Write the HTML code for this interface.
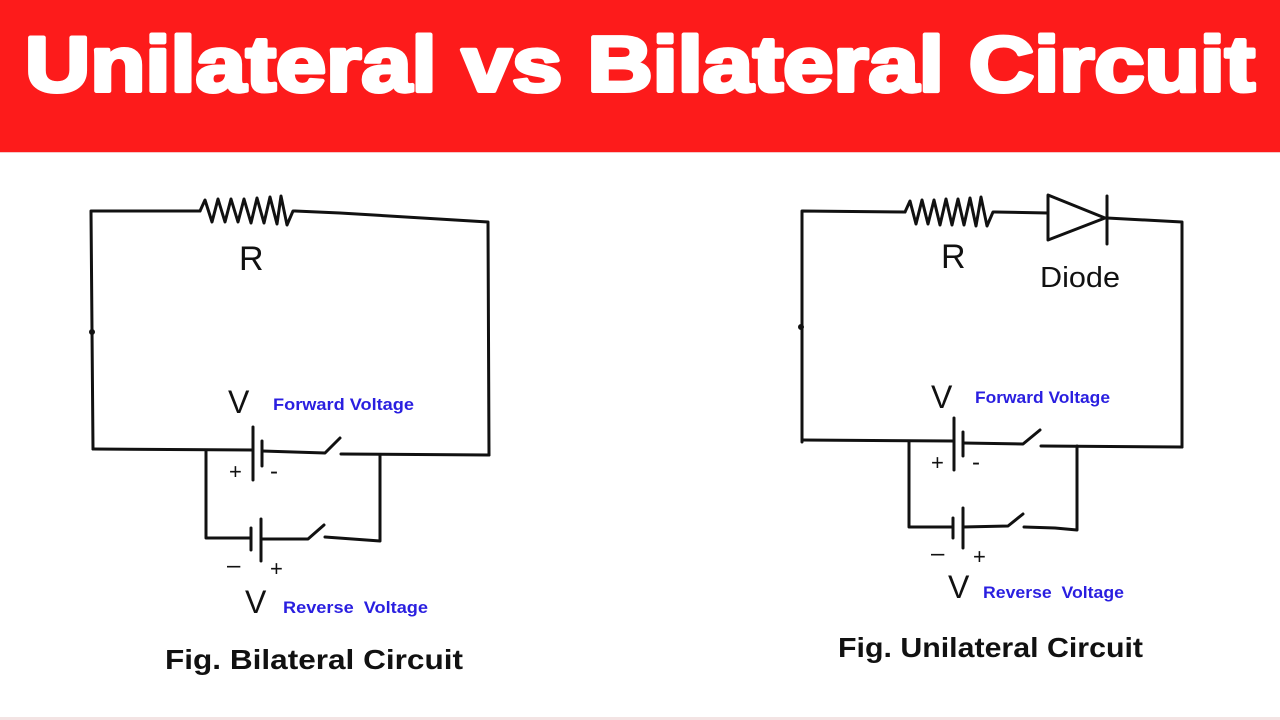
<!DOCTYPE html>
<html>
<head>
<meta charset="utf-8">
<style>
  html,body{margin:0;padding:0;background:#fff;}
  body{width:1280px;height:720px;overflow:hidden;}
  svg{display:block;}
</style>
</head>
<body>
<svg width="1280" height="720" viewBox="0 0 1280 720" xmlns="http://www.w3.org/2000/svg">
  <rect x="0" y="0" width="1280" height="720" fill="#ffffff"/>
  <!-- header band -->
  <rect x="0" y="0" width="1280" height="152" fill="#fd1b1b"/>
  <rect x="0" y="152" width="1280" height="1" fill="#f6c8c8"/>
  <text x="25" y="91" font-family="Liberation Sans, sans-serif" font-weight="bold" font-size="78" fill="#ffffff" stroke="#ffffff" stroke-width="4" stroke-linejoin="round" textLength="1230" lengthAdjust="spacingAndGlyphs">Unilateral vs Bilateral Circuit</text>

  <!-- bottom faint line -->
  <rect x="0" y="717" width="1280" height="3" fill="#f3e3e3"/>

  <g fill="none" stroke="#111" stroke-width="3" stroke-linecap="round" stroke-linejoin="round">
    <!-- LEFT CIRCUIT -->
    <path d="M93,449 L91,211 L200,211"/>
    <polyline points="200,211 205,200 212,222 218,199 225,222 231,199 238,222 244,199 251,223 257,198 264,223 270,197 277,224 281,196 287,225 293,211 295,211"/>
    <path d="M295,211 L340,213 L488,222 L489,455"/>
    <circle cx="92" cy="332" r="1.5" fill="#111"/>
    <!-- top battery + switch -->
    <path d="M93,449 L253,450"/>
    <path d="M253,427 L253,480"/>
    <path d="M262,441 L262,466"/>
    <path d="M262,451 L325,453 L340,438"/>
    <path d="M341,454 L489,455"/>
    <!-- parallel branch -->
    <path d="M206,450 L206,538 L251,538"/>
    <path d="M251,528 L251,550"/>
    <path d="M261,519 L261,561"/>
    <path d="M261,539 L308,539 L324,525"/>
    <path d="M325,537 L380,541 L380,455"/>

    <!-- RIGHT CIRCUIT -->
    <path d="M802,442 L802,211 L905,212"/>
    <polyline points="905,212 910,201 916,224 922,200 928,224 934,200 940,225 946,199 952,225 958,199 964,225 970,198 976,226 981,197 987,226 993,212 995,212"/>
    <path d="M995,212 L1048,213"/>
    <path d="M1048,195 L1048,240 L1105,218 Z"/>
    <path d="M1107,196 L1107,244"/>
    <path d="M1107,218 L1182,222 L1182,447"/>
    <circle cx="801" cy="327" r="1.5" fill="#111"/>
    <!-- top battery + switch -->
    <path d="M802,440 L954,441"/>
    <path d="M954,418 L954,470"/>
    <path d="M963,432 L963,456"/>
    <path d="M963,443 L1023,444 L1040,430"/>
    <path d="M1041,446 L1182,447"/>
    <!-- parallel branch -->
    <path d="M909,441 L909,527 L953,527"/>
    <path d="M953,518 L953,538"/>
    <path d="M963,508 L963,548"/>
    <path d="M963,527 L1008,526 L1023,514"/>
    <path d="M1024,527 L1055,528 L1077,530 L1077,446"/>
  </g>

  <g font-family="Liberation Sans, sans-serif" fill="#111">
    <!-- left labels -->
    <text x="239" y="270" font-size="34">R</text>
    <text x="228" y="413" font-size="32">V</text>
    <text x="229" y="479" font-size="22">+</text>
    <text x="270" y="479" font-size="24">-</text>
    <text x="227" y="573" font-size="24">–</text>
    <text x="270" y="576" font-size="22">+</text>
    <text x="245" y="613" font-size="32">V</text>
    <text x="165" y="669" font-size="28" font-weight="bold" textLength="298" lengthAdjust="spacingAndGlyphs">Fig. Bilateral Circuit</text>

    <!-- right labels -->
    <text x="941" y="268" font-size="34">R</text>
    <text x="1040" y="287" font-size="29" textLength="80" lengthAdjust="spacingAndGlyphs">Diode</text>
    <text x="931" y="408" font-size="32">V</text>
    <text x="931" y="470" font-size="22">+</text>
    <text x="972" y="470" font-size="24">-</text>
    <text x="931" y="561" font-size="24">–</text>
    <text x="973" y="564" font-size="22">+</text>
    <text x="948" y="598" font-size="32">V</text>
    <text x="838" y="657" font-size="28" font-weight="bold" textLength="305" lengthAdjust="spacingAndGlyphs">Fig. Unilateral Circuit</text>
  </g>

  <g font-family="Liberation Sans, sans-serif" font-weight="bold" fill="#2a1fe0">
    <text x="273" y="410" font-size="17" textLength="141" lengthAdjust="spacingAndGlyphs">Forward Voltage</text>
    <text x="283" y="613" font-size="17" textLength="145" lengthAdjust="spacingAndGlyphs">Reverse&#160; Voltage</text>
    <text x="975" y="403" font-size="17" textLength="135" lengthAdjust="spacingAndGlyphs">Forward Voltage</text>
    <text x="983" y="598" font-size="17" textLength="141" lengthAdjust="spacingAndGlyphs">Reverse&#160; Voltage</text>
  </g>
</svg>
</body>
</html>
